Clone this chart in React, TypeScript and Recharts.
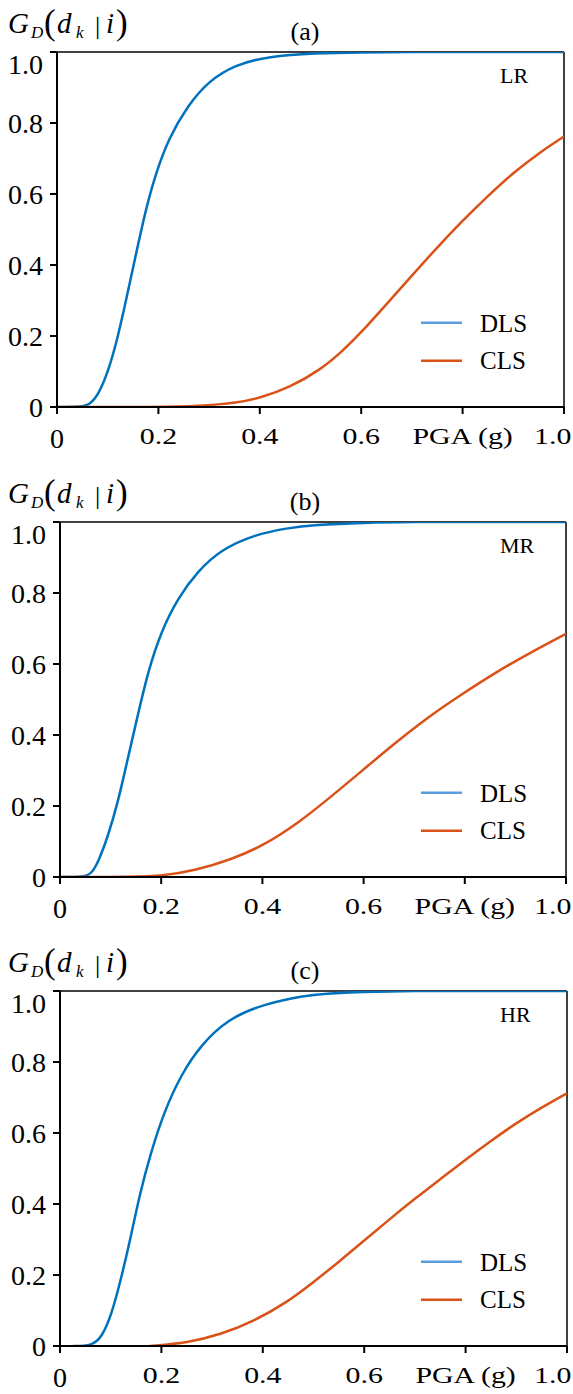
import React from 'react';
import { LineChart, Line, XAxis, YAxis, ReferenceLine } from 'recharts';

// Panel (a) LR
const aDlsX = [0, 0.049, 0.065, 0.081, 0.101, 0.121, 0.137, 0.154, 0.174, 0.193, 0.22, 0.259, 0.298, 0.351, 0.417, 0.509, 0.6, 0.7, 0.8, 0.9, 1.0];
const aDlsY = [0, 0, 0.008, 0.033, 0.099, 0.202, 0.306, 0.419, 0.55, 0.65, 0.757, 0.851, 0.917, 0.964, 0.988, 0.997, 0.999, 1, 1, 1, 1];
const aClsX = [0, 0.2, 0.28, 0.357, 0.4, 0.46, 0.519, 0.565, 0.6, 0.65, 0.7, 0.75, 0.8, 0.85, 0.9, 0.95, 1.0];
const aClsY = [0, 0, 0.002, 0.012, 0.025, 0.056, 0.104, 0.16, 0.21, 0.29, 0.37, 0.45, 0.525, 0.595, 0.66, 0.715, 0.762];

// Panel (b) MR
const bDlsX = [0, 0.049, 0.062, 0.075, 0.095, 0.115, 0.131, 0.151, 0.174, 0.2, 0.233, 0.272, 0.318, 0.384, 0.449, 0.502, 0.6, 0.7, 0.8, 1.0];
const bDlsY = [0, 0, 0.01, 0.04, 0.115, 0.214, 0.315, 0.439, 0.58, 0.692, 0.786, 0.861, 0.922, 0.964, 0.983, 0.992, 0.998, 1, 1, 1];
const bClsX = [0, 0.15, 0.2, 0.265, 0.34, 0.4, 0.472, 0.537, 0.596, 0.655, 0.721, 0.793, 0.865, 0.931, 1.0];
const bClsY = [0, 0, 0.003, 0.017, 0.05, 0.087, 0.153, 0.228, 0.298, 0.369, 0.444, 0.514, 0.58, 0.633, 0.685];

// Panel (c) HR
const cDlsX = [0.026, 0.062, 0.082, 0.102, 0.121, 0.138, 0.157, 0.18, 0.206, 0.239, 0.279, 0.331, 0.397, 0.501, 0.6, 0.7, 0.8, 1.0];
const cDlsY = [0, 0, 0.023, 0.089, 0.193, 0.296, 0.427, 0.549, 0.662, 0.765, 0.85, 0.92, 0.962, 0.993, 0.998, 1, 1, 1];
const cClsX = [0.177, 0.252, 0.318, 0.383, 0.45, 0.5, 0.55, 0.6, 0.65, 0.7, 0.75, 0.8, 0.85, 0.9, 0.95, 1.0];
const cClsY = [0, 0.009, 0.033, 0.07, 0.125, 0.18, 0.237, 0.297, 0.357, 0.415, 0.47, 0.525, 0.578, 0.628, 0.672, 0.712];

const xTicks = [0, 0.2, 0.4, 0.6, 0.8, 1.0];
const yTicks = [0, 0.2, 0.4, 0.6, 0.8, 1.0];
const xTickLabels = ['0', '0.2', '0.4', '0.6', 'PGA (g)', '1.0'];
const yTickLabels = ['0', '0.2', '0.4', '0.6', '0.8', '1.0'];
const seriesNames = ['DLS', 'CLS'];
const panelTitles = ['(a)', '(b)', '(c)'];
const panelTags = ['LR', 'MR', 'HR'];

const zip = (xs: number[], ys: number[]) => xs.map((x, i) => ({ x, y: ys[i] }));

const BLUE = '#0072bd';
const ORANGE = '#d95319';
const LEG_BLUE = '#5a9ee0';
const FONT = 'Liberation Serif, Times New Roman, serif';
const fs = { fontFamily: FONT };

const XTick = (props: any) => {
  const { x, y, payload } = props;
  const idx = xTicks.indexOf(payload.value);
  const label = xTickLabels[idx];
  if (idx === 0) {
    return (
      <text x={x} y={y + 32} textAnchor="middle" fontSize={28} style={fs} fill="#000">{label}</text>
    );
  }
  if (idx === 5) {
    return (
      <text transform={`translate(${534},${y + 28}) scale(1.3,1)`} textAnchor="start" fontSize={23} style={fs} fill="#000">{label}</text>
    );
  }
  return (
    <text transform={`translate(${x},${y + 28}) scale(1.3,1)`} textAnchor="middle" fontSize={23} style={fs} fill="#000">{label}</text>
  );
};

const YTick = (props: any) => {
  const { x, y, payload } = props;
  const idx = yTicks.indexOf(payload.value);
  const dy = idx === 5 ? 21.5 : 9.5;
  return (
    <text x={x - 5} y={y + dy} textAnchor="end" fontSize={28} style={fs} fill="#000">{yTickLabels[idx]}</text>
  );
};

type PanelProps = {
  i: number;
  top: number;
  left: number;
  right: number;
  dls: { x: number; y: number }[];
  cls: { x: number; y: number }[];
};

const CHART_W = 600;
const CHART_H = 470;

const Panel = ({ i, top, left, right, dls, cls }: PanelProps) => (
  <div style={{ position: 'absolute', left: 0, top, width: CHART_W, height: CHART_H }}>
    <LineChart width={CHART_W} height={CHART_H} margin={{ top: 52, right: CHART_W - right, bottom: 0, left: 0 }}>
      <XAxis
        type="number"
        dataKey="x"
        domain={[0, 1]}
        ticks={xTicks}
        allowDataOverflow
        height={63}
        axisLine={{ stroke: '#000', strokeWidth: 2 }}
        tickLine={{ stroke: '#000', strokeWidth: 2 }}
        tickSize={7}
        tick={<XTick />}
        interval={0}
      />
      <YAxis
        type="number"
        dataKey="y"
        domain={[0, 1]}
        ticks={yTicks}
        allowDataOverflow
        width={left}
        axisLine={{ stroke: '#000', strokeWidth: 2 }}
        tickLine={{ stroke: '#000', strokeWidth: 2 }}
        tickSize={7}
        tick={<YTick />}
        interval={0}
      />
      <ReferenceLine y={1} stroke="#000" strokeWidth={1.5} ifOverflow="visible" />
      <ReferenceLine x={1} stroke="#000" strokeWidth={1.5} ifOverflow="visible" />
      <Line data={dls} dataKey="y" type="basis" stroke={BLUE} strokeWidth={2.5} dot={false} isAnimationActive={false} />
      <Line data={cls} dataKey="y" type="basis" stroke={ORANGE} strokeWidth={2.5} dot={false} isAnimationActive={false} />
    </LineChart>
    <svg width={CHART_W} height={CHART_H} style={{ position: 'absolute', left: 0, top: 0, pointerEvents: 'none', fontFamily: FONT }}>
      <g fill="#000">
        <text x={8} y={33} fontSize={29} fontStyle="italic">G</text>
        <text x={31} y={38} fontSize={17} fontStyle="italic">D</text>
        <text x={44} y={34} fontSize={35}>(</text>
        <text x={57} y={33} fontSize={29} fontStyle="italic">d</text>
        <text x={76} y={38} fontSize={17} fontStyle="italic">k</text>
        <text x={95} y={34} fontSize={26}>|</text>
        <text x={106} y={33} fontSize={29} fontStyle="italic">i</text>
        <text x={116} y={34} fontSize={35}>)</text>
        <text x={305} y={40} fontSize={26} textAnchor="middle">{panelTitles[i]}</text>
        <text x={500} y={83} fontSize={22}>{panelTags[i]}</text>
        <line x1={421} x2={462} y1={322.7} y2={322.7} stroke={LEG_BLUE} strokeWidth={2.5} />
        <line x1={421} x2={462} y1={360.7} y2={360.7} stroke={ORANGE} strokeWidth={2.5} />
        <text x={480} y={331.5} fontSize={25}>{seriesNames[0]}</text>
        <text x={480} y={369} fontSize={25}>{seriesNames[1]}</text>
      </g>
    </svg>
  </div>
);

export default function App() {
  return (
    <div style={{ position: 'absolute', left: 0, top: 0, width: 573, height: 1394, overflow: 'hidden', background: '#fff' }}>
      <Panel i={0} top={0} left={57} right={564} dls={zip(aDlsX, aDlsY)} cls={zip(aClsX, aClsY)} />
      <Panel i={1} top={470} left={60} right={566} dls={zip(bDlsX, bDlsY)} cls={zip(bClsX, bClsY)} />
      <Panel i={2} top={939} left={60} right={567} dls={zip(cDlsX, cDlsY)} cls={zip(cClsX, cClsY)} />
    </div>
  );
}
